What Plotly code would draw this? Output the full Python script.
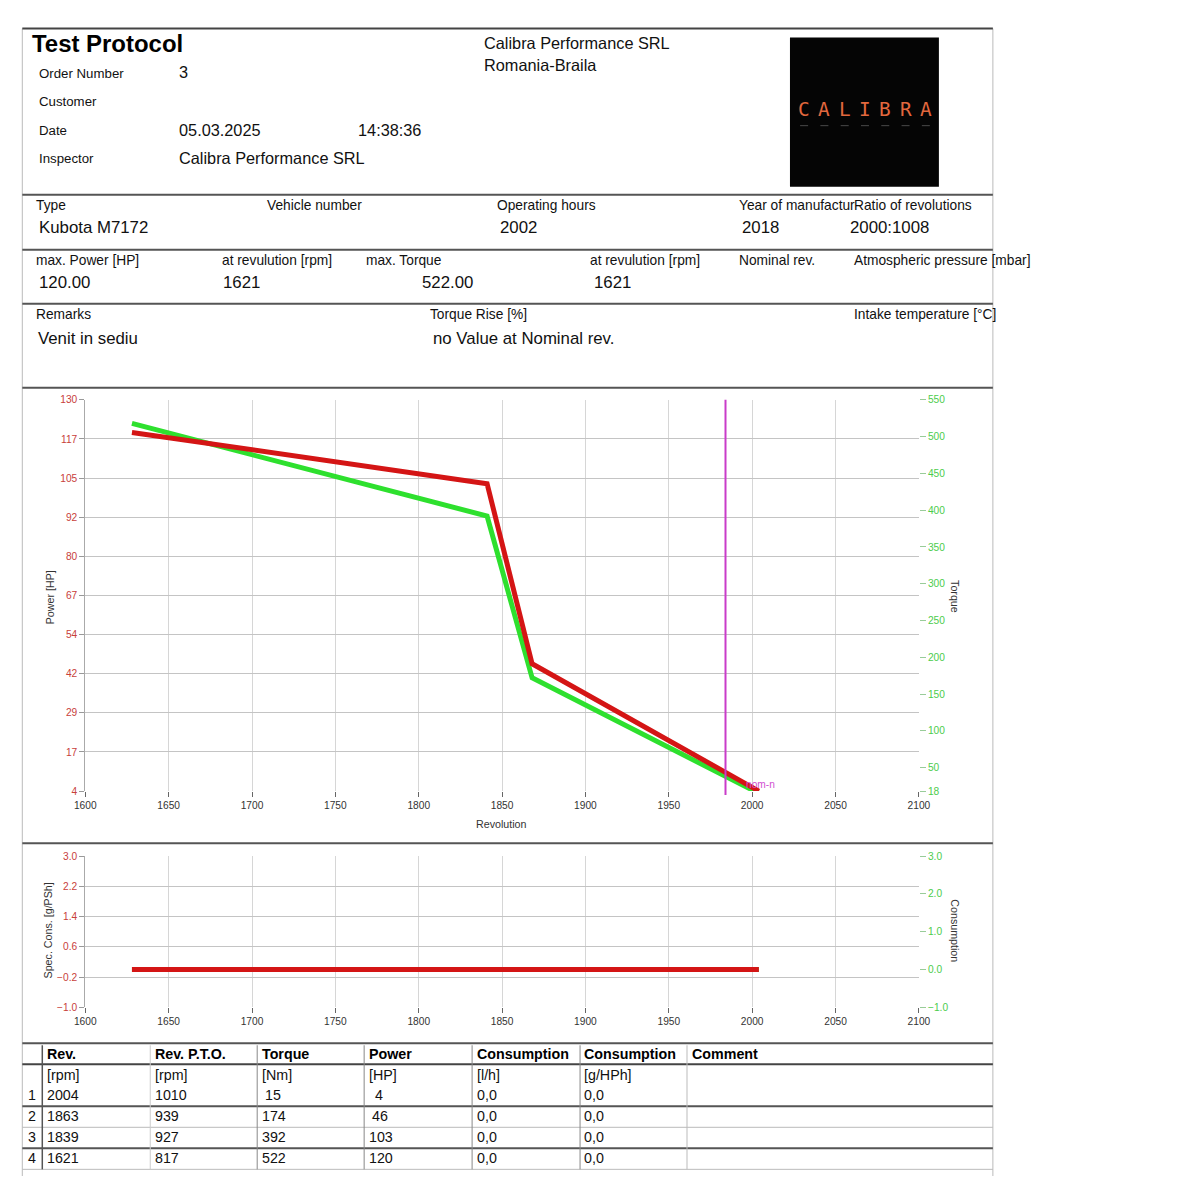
import plotly.graph_objects as go

# ---------------- data ----------------
# table values
rev = [2004, 1863, 1839, 1621]
rev_pto = [1010, 939, 927, 817]
torque_nm = [15, 174, 392, 522]
power_hp = [4, 46, 103, 120]
consumption_lh = [0.0, 0.0, 0.0, 0.0]
spec_cons_ghph = [0.0, 0.0, 0.0, 0.0]

# curve values
curve_rev = [2004, 1868, 1841, 1628]
curve_power = [4, 45, 103, 119.5]
curve_torque = [15, 172, 392, 518]
curve_consumption = [0.0, 0.0, 0.0, 0.0]
curve_spec_cons = [0.0, 0.0, 0.0, 0.0]
nominal_rev = 1984

x_ticks = [1600, 1650, 1700, 1750, 1800, 1850, 1900, 1950, 2000, 2050, 2100]
power_tick_vals = [4, 16.6, 29.2, 41.8, 54.4, 67, 79.6, 92.2, 104.8, 117.4, 130]
power_tick_text = ["4", "17", "29", "42", "54", "67", "80", "92", "105", "117", "130"]
torque_ticks = [18, 50, 100, 150, 200, 250, 300, 350, 400, 450, 500, 550]
spec_ticks = [-1.0, -0.2, 0.6, 1.4, 2.2, 3.0]
cons_ticks = [-1.0, 0.0, 1.0, 2.0, 3.0]

# ---------------- page geometry helpers ----------------
W, H = 1184, 1174
SX, OX = 0.981, 18.7
SY, OY = 0.990, 13.4


def px(x):
    return ((x - OX) / SX) / W


def py(y):
    return 1 - ((y - OY) / SY) / H


FS = 1.0 / SX  # font compensation
ARIAL = "Liberation Sans, Arial, sans-serif"
RED = "#d41515"
GREEN = "#2ee02e"
RED_TXT = "#c8403a"
GREEN_TXT = "#4ccc4c"

fig = go.Figure()

# ---------------- traces ----------------
fig.add_trace(go.Scatter(x=curve_rev, y=curve_torque, mode="lines", xaxis="x", yaxis="y",
                         line=dict(color=GREEN, width=5),
                         showlegend=False, hoverinfo="skip"))
fig.add_trace(go.Scatter(x=curve_rev, y=curve_power, mode="lines", xaxis="x", yaxis="y2",
                         line=dict(color=RED, width=5),
                         showlegend=False, hoverinfo="skip"))
fig.add_trace(go.Scatter(x=curve_rev, y=curve_consumption, mode="lines", xaxis="x2", yaxis="y3",
                         line=dict(color=GREEN, width=5), showlegend=False, hoverinfo="skip"))
fig.add_trace(go.Scatter(x=curve_rev, y=curve_spec_cons, mode="lines", xaxis="x2", yaxis="y4",
                         line=dict(color=RED, width=5), showlegend=False, hoverinfo="skip"))

xdom = [px(85), px(919)]
TF = 10 * FS
xcommon = dict(range=[1600, 2100], tickvals=x_ticks, ticks="outside", ticklen=5,
               tickcolor="#666", showgrid=True, gridcolor="#d6d6d6", gridwidth=1,
               showline=False, zeroline=False,
               tickfont=dict(family=ARIAL, size=TF, color="#333"))

fig.update_layout(
    width=W, height=H, margin=dict(l=0, r=0, t=0, b=0),
    paper_bgcolor="white", plot_bgcolor="white",
    xaxis=dict(domain=xdom, anchor="y", **xcommon),
    yaxis=dict(domain=[py(791), py(400)], anchor="x", side="right", range=[18, 550],
               tickvals=torque_ticks, ticks="outside", ticklen=6, tickcolor="#9c9",
               showgrid=False, showline=False, zeroline=False,
               tickfont=dict(family=ARIAL, size=TF, color=GREEN_TXT)),
    yaxis2=dict(overlaying="y", anchor="x", side="left", range=[4, 130],
                tickvals=power_tick_vals, ticktext=power_tick_text, ticks="outside",
                ticklen=5, tickcolor="#999", showgrid=True, gridcolor="#c4c4c4",
                showline=True, linecolor="#aaa", linewidth=1, zeroline=False,
                tickfont=dict(family=ARIAL, size=TF, color=RED_TXT)),
    xaxis2=dict(domain=xdom, anchor="y3", **xcommon),
    yaxis3=dict(domain=[py(1007), py(856)], anchor="x2", side="right", range=[-1, 3],
                tickvals=cons_ticks, tickformat=".1f", ticks="outside", ticklen=6,
                tickcolor="#9c9", showgrid=False, showline=False, zeroline=False,
                tickfont=dict(family=ARIAL, size=TF, color=GREEN_TXT)),
    yaxis4=dict(overlaying="y3", anchor="x2", side="left", range=[-1, 3],
                tickvals=spec_ticks, tickformat=".1f", ticks="outside", ticklen=5,
                tickcolor="#999", showgrid=True, gridcolor="#c4c4c4",
                showline=True, linecolor="#aaa", linewidth=1, zeroline=False,
                tickfont=dict(family=ARIAL, size=TF, color=RED_TXT)),
)

shapes = []
ann = []


def hline(y, x0=22, x1=993, color="#555", width=2):
    shapes.append(dict(type="line", xref="paper", yref="paper", x0=px(x0), x1=px(x1),
                       y0=py(y), y1=py(y), line=dict(color=color, width=width)))


def vline(x, y0, y1, color="#bbb", width=1):
    shapes.append(dict(type="line", xref="paper", yref="paper", x0=px(x), x1=px(x),
                       y0=max(py(y0), 0), y1=max(py(y1), 0), line=dict(color=color, width=width)))


def text(x, y, s, size=13, family=ARIAL, color="#111", bold=False, anchor="left", angle=0):
    if bold:
        s = "<b>" + s + "</b>"
    ann.append(dict(x=px(x), y=py(y), xref="paper", yref="paper", text=s, showarrow=False,
                    textangle=angle, xanchor=anchor, yanchor="middle",
                    font=dict(family=family, size=size * FS, color=color)))


# page frame and separators
vline(22, 29, 1195)
vline(993, 29, 1195)
hline(29, color="#444")
for yy in [195, 250, 304, 388, 843, 1043]:
    hline(yy)

# ---------------- header ----------------
text(30, 44, "Test Protocol", size=23.5, bold=True, color="#000")
text(37, 74, "Order Number", size=13)
text(177, 72, "3", size=16)
text(37, 102, "Customer", size=13)
text(37, 131, "Date", size=13)
text(177, 130, "05.03.2025", size=16)
text(356, 130, "14:38:36", size=16)
text(37, 159, "Inspector", size=13)
text(177, 158, "Calibra Performance SRL", size=16)
text(482, 43, "Calibra Performance SRL", size=16)
text(482, 65, "Romania-Braila", size=16)

# logo
shapes.append(dict(type="rect", xref="paper", yref="paper", x0=px(790), x1=px(939),
                   y0=py(187), y1=py(38), fillcolor="#050505", line=dict(color="#050505", width=0)))
for i, ch in enumerate("CALIBRA"):
    text(794 + 20.3 * (i + 0.5), 110, ch, size=19, family="DejaVu Sans Mono",
         color="#e2683e", anchor="center")
for i in range(7):
    cx = 794 + 20.3 * (i + 0.5)
    hline(126, x0=cx - 4, x1=cx + 4, color="#4a4a4a", width=1)

# ---------------- info rows ----------------
LS = 13.5
VS = 16.5
text(34, 206, "Type", size=LS)
text(265, 206, "Vehicle number", size=LS)
text(495, 206, "Operating hours", size=LS)
text(737, 206, "Year of manufactur", size=LS)
text(852, 206, "Ratio of revolutions", size=LS)
text(37, 228, "Kubota M7172", size=VS)
text(498, 228, "2002", size=VS)
text(740, 228, "2018", size=VS)
text(848, 228, "2000:1008", size=VS)

text(34, 261, "max. Power [HP]", size=LS)
text(220, 261, "at revulution [rpm]", size=LS)
text(364, 261, "max. Torque", size=LS)
text(588, 261, "at revulution [rpm]", size=LS)
text(737, 261, "Nominal rev.", size=LS)
text(852, 261, "Atmospheric pressure [mbar]", size=LS)
text(37, 283, "%.2f" % max(power_hp), size=VS)
text(221, 283, str(rev[power_hp.index(max(power_hp))]), size=VS)
text(475, 283, "%.2f" % max(torque_nm), size=VS, anchor="right")
text(592, 283, str(rev[torque_nm.index(max(torque_nm))]), size=VS)

text(34, 315, "Remarks", size=LS)
text(428, 315, "Torque Rise [%]", size=LS)
text(852, 315, "Intake temperature [°C]", size=LS)
text(36, 339, "Venit in sediu", size=VS)
text(431, 339, "no Value at Nominal rev.", size=VS)

# ---------------- chart annotations ----------------
text(50, 597, "Power [HP]", size=10.5, color="#333", anchor="center", angle=-90)
text(955, 597, "Torque", size=10.5, color="#333", anchor="center", angle=90)
text(501, 824, "Revolution", size=10.5, color="#333", anchor="center")
text(48, 930, "Spec. Cons. [g/PSh]", size=10.5, color="#333", anchor="center", angle=-90)
text(955, 931, "Consumption", size=10.5, color="#333", anchor="center", angle=90)

# nominal rev marker
shapes.append(dict(type="line", xref="x", yref="paper", x0=nominal_rev, x1=nominal_rev,
                   y0=py(795), y1=py(400), line=dict(color="#c93cc9", width=2)))
ann.append(dict(x=1995, y=py(784), xref="x", yref="paper", text="nom-n", showarrow=False,
                xanchor="left", yanchor="middle",
                font=dict(family=ARIAL, size=10 * FS, color="#d050d0")))

# ---------------- table ----------------
col_x = [45, 153, 260, 367, 475, 582, 690]
headers = ["Rev.", "Rev. P.T.O.", "Torque", "Power", "Consumption", "Consumption", "Comment"]
units = ["[rpm]", "[rpm]", "[Nm]", "[HP]", "[l/h]", "[g/HPh]", ""]
for cx, h in zip(col_x, headers):
    text(cx, 1054, h, size=14, bold=True, color="#000")
for cx, u in zip(col_x, units):
    if u:
        text(cx, 1075, u, size=14)

row_y = [1095, 1116, 1137, 1158]


def fmt_comma(v):
    return ("%.1f" % v).replace(".", ",")


for i, yy in enumerate(row_y):
    text(26, yy, str(i + 1), size=14)
    text(col_x[0], yy, str(rev[i]), size=14)
    text(col_x[1], yy, str(rev_pto[i]), size=14)
    text(col_x[2] + (3 if torque_nm[i] < 100 else 0), yy, str(torque_nm[i]), size=14)
    pv = power_hp[i]
    text(col_x[3] + (6 if pv < 10 else (3 if pv < 100 else 0)), yy, str(pv), size=14)
    text(col_x[4], yy, fmt_comma(consumption_lh[i]), size=14)
    text(col_x[5], yy, fmt_comma(spec_cons_ghph[i]), size=14)

hline(1064, color="#444", width=2)
hline(1106, color="#555", width=2)
hline(1127, color="#bbb", width=1)
hline(1148, color="#555", width=2)
hline(1169, color="#bbb", width=1)
vline(42, 1045, 1169, color="#555", width=1.5)
vline(150, 1045, 1169, color="#ccc", width=1)
for xx in [257, 364, 472, 580]:
    vline(xx, 1045, 1169, color="#888", width=1)
vline(687, 1045, 1169, color="#bbb", width=1)

fig.update_layout(shapes=shapes, annotations=ann)
fig.write_html("out.html")
